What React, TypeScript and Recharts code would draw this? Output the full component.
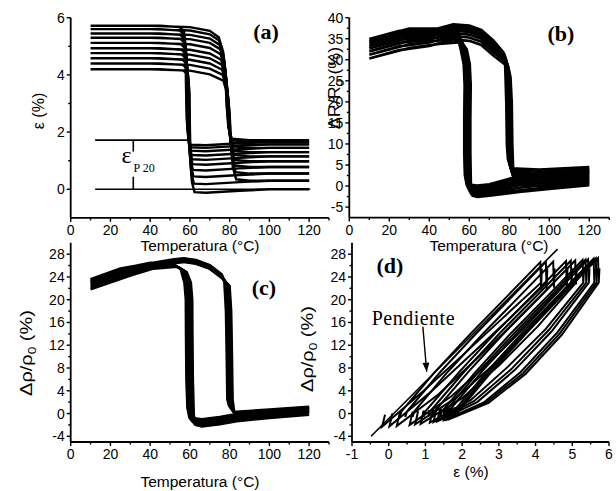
import { Line, LineChart, ReferenceLine, XAxis, YAxis } from 'recharts'

type Pt = [number, number]

const W = 616
const H = 491
const SANS = "'Liberation Sans', Arial, sans-serif"
const SERIF = "'Liberation Serif', 'Times New Roman', serif"

// (a) strain vs temperature: each cycle cools from 120 °C down to 10 °C, then heats back
const STRAIN_CYCLES: Pt[][] = [
  [[120,0],[100,0],[85,-0.05],[68,-0.12],[62.3,-0.1],[61,0.25],[60.4,0.84],[60,2.1],[59.8,3.36],[59,4.0],[56.8,4.15],[45,4.2],[10,4.2],[40,4.2],[60,4.15],[70,4.02],[76.8,3.8],[79,3.3],[80,2.64],[80.8,1.47],[81.6,0.77],[83.3,0.35],[90,0.3],[120,0.3]],
  [[120,0.3],[100,0.3],[85,0.25],[68,0.18],[62,0.2],[60.7,0.55],[60.1,1.12],[59.7,2.35],[59.5,3.58],[58.7,4.2],[56.5,4.35],[45,4.4],[10,4.4],[40,4.4],[60,4.35],[70,4.22],[76.5,4.0],[78.7,3.5],[79.7,2.86],[80.5,1.7],[81.3,1.01],[83,0.6],[90,0.55],[120,0.55]],
  [[120,0.55],[100,0.55],[85,0.5],[68,0.43],[61.8,0.45],[60.5,0.8],[59.9,1.36],[59.5,2.57],[59.3,3.77],[58.5,4.38],[56.3,4.53],[45,4.58],[10,4.58],[40,4.58],[60,4.53],[70,4.4],[76.2,4.18],[78.4,3.68],[79.4,3.06],[80.2,1.92],[81,1.24],[82.7,0.83],[90,0.78],[120,0.78]],
  [[120,0.78],[100,0.78],[85,0.73],[68,0.66],[61.5,0.68],[60.2,1.03],[59.6,1.58],[59.2,2.77],[59,3.96],[58.2,4.56],[56,4.71],[45,4.76],[10,4.76],[40,4.76],[60,4.71],[70,4.58],[76,4.36],[78.2,3.86],[79.2,3.25],[80,2.11],[80.8,1.43],[82.5,1.03],[90,0.98],[120,0.98]],
  [[120,0.98],[100,0.98],[85,0.93],[68,0.86],[61.3,0.88],[60,1.23],[59.4,1.77],[59,2.96],[58.8,4.14],[58,4.73],[55.8,4.88],[45,4.93],[10,4.93],[40,4.93],[60,4.88],[70,4.75],[75.7,4.53],[77.9,4.03],[78.9,3.42],[79.7,2.28],[80.5,1.6],[82.2,1.2],[90,1.15],[120,1.15]],
  [[120,1.15],[100,1.15],[85,1.1],[68,1.03],[61.1,1.05],[59.8,1.4],[59.2,1.94],[58.8,3.14],[58.6,4.33],[57.8,4.92],[55.6,5.07],[45,5.12],[10,5.12],[40,5.12],[60,5.07],[70,4.94],[75.5,4.72],[77.7,4.22],[78.7,3.59],[79.5,2.45],[80.3,1.76],[82,1.35],[90,1.3],[120,1.3]],
  [[120,1.3],[100,1.3],[85,1.25],[68,1.18],[60.9,1.2],[59.6,1.55],[59,2.1],[58.6,3.3],[58.4,4.5],[57.6,5.1],[55.4,5.25],[45,5.3],[10,5.3],[40,5.3],[60,5.25],[70,5.12],[75.2,4.9],[77.4,4.4],[78.4,3.76],[79.2,2.61],[80,1.91],[81.7,1.5],[90,1.45],[120,1.45]],
  [[120,1.45],[100,1.45],[85,1.4],[68,1.33],[60.7,1.35],[59.4,1.7],[58.8,2.25],[58.4,3.45],[58.2,4.65],[57.4,5.25],[55.2,5.4],[45,5.45],[10,5.45],[40,5.45],[60,5.4],[70,5.27],[75,5.05],[77.2,4.55],[78.2,3.9],[79,2.73],[79.8,2.04],[81.5,1.62],[90,1.57],[120,1.57]],
  [[120,1.57],[100,1.57],[85,1.52],[68,1.45],[60.5,1.47],[59.2,1.82],[58.6,2.38],[58.2,3.59],[58,4.79],[57.2,5.4],[55,5.55],[45,5.6],[10,5.6],[40,5.6],[60,5.55],[70,5.42],[74.7,5.2],[76.9,4.7],[77.9,4.02],[78.7,2.84],[79.5,2.13],[81.2,1.71],[90,1.66],[120,1.66]],
  [[120,1.66],[100,1.66],[85,1.61],[68,1.54],[60.3,1.56],[59,1.91],[58.4,2.47],[58,3.69],[57.8,4.91],[57,5.52],[54.8,5.67],[45,5.72],[10,5.72],[40,5.72],[60,5.67],[70,5.54],[74.5,5.32],[76.7,4.82],[77.7,4.12],[78.5,2.92],[79.3,2.2],[81,1.77],[90,1.72],[120,1.72]],
]

// (b) electrical resistance change vs temperature
const RES_CYCLES: Pt[][] = [
  [[120,0.2],[100,-0.7],[85,-1.4],[70,-2.3],[64,-2.6],[61.7,-2.3],[60.8,-0.1],[60.5,8],[60.5,16],[60.7,24],[60.2,29],[58.7,32.5],[56,34.2],[45,33.8],[30,32.8],[10,30.3],[25,32.3],[40,33.3],[52,34.8],[60,34.5],[66,33.5],[72,31],[79.5,28.3],[80.6,25.8],[81.2,20],[81.5,10],[82,2.6],[83.5,0.3],[95,0],[120,0.6]],
  [[120,0.6],[100,-0.3],[85,-1.0],[70,-2.0],[64,-2.3],[61.2,-2.0],[60.3,0.2],[60,8],[60,16],[60.2,24],[59.7,29],[58.2,32.5],[55.5,35],[45,34.6],[30,33.7],[10,31.2],[25,33.2],[40,34.1],[52,35.6],[60,35.3],[66,34.3],[72,31.8],[79,29.1],[80.1,26.6],[80.7,20],[81,10],[81.5,3.2],[83,0.9],[95,0.6],[120,1.2]],
  [[120,1.2],[100,0.3],[85,-0.4],[70,-1.6],[64,-1.9],[60.7,-1.6],[59.8,0.6],[59.5,8],[59.5,16],[59.7,24],[59.2,29],[57.7,32.5],[55,35.7],[45,35.3],[30,34.5],[10,32],[25,34],[40,34.8],[52,36.3],[60,36],[66,35],[72,32.5],[78.5,29.8],[79.6,27.3],[80.2,20],[80.5,10],[81,3.8],[82.5,1.5],[95,1.2],[120,1.8]],
  [[120,1.8],[100,0.9],[85,0.2],[70,-1.2],[64,-1.5],[60.2,-1.2],[59.3,1.0],[59,8],[59,16],[59.2,24],[58.7,29],[57.2,32.5],[54.5,36.3],[45,35.9],[30,35.2],[10,32.7],[25,34.7],[40,35.4],[52,36.9],[60,36.6],[66,35.6],[72,33.1],[78.2,30.4],[79.3,27.9],[79.9,20],[80.2,10],[80.7,4.4],[82.2,2.1],[95,1.8],[120,2.4]],
  [[120,2.4],[100,1.5],[85,0.8],[70,-0.8],[64,-1.1],[59.8,-0.8],[58.9,1.4],[58.6,8],[58.6,16],[58.8,24],[58.3,29],[56.8,32.5],[54.1,36.8],[45,36.4],[30,35.8],[10,33.3],[25,35.3],[40,35.9],[52,37.4],[60,37.1],[66,36.1],[72,33.6],[77.8,30.9],[78.9,28.4],[79.5,20],[79.8,10],[80.3,5.0],[81.8,2.7],[95,2.4],[120,3.0]],
  [[120,3.0],[100,2.1],[85,1.4],[70,-0.4],[64,-0.7],[59.4,-0.4],[58.5,1.8],[58.2,8],[58.2,16],[58.4,24],[57.9,29],[56.4,32.5],[53.7,37.2],[45,36.8],[30,36.4],[10,33.9],[25,35.9],[40,36.3],[52,37.8],[60,37.5],[66,36.5],[72,34],[77.5,31.3],[78.6,28.8],[79.2,20],[79.5,10],[80,5.5],[81.5,3.2],[95,2.9],[120,3.5]],
  [[120,3.5],[100,2.6],[85,1.9],[70,0],[64,-0.3],[59,0],[58.1,2.2],[57.8,8],[57.8,16],[58,24],[57.5,29],[56,32.5],[53.3,37.5],[45,37.1],[30,36.9],[10,34.4],[25,36.4],[40,36.6],[52,38.1],[60,37.8],[66,36.8],[72,34.3],[77.2,31.6],[78.3,29.1],[78.9,20],[79.2,10],[79.7,6],[81.2,3.7],[95,3.4],[120,4.0]],
  [[120,4.0],[100,3.1],[85,2.4],[70,0.4],[64,0.1],[58.7,0.4],[57.8,2.6],[57.5,8],[57.5,16],[57.7,24],[57.2,29],[55.7,32.5],[53,37.8],[45,37.4],[30,37.4],[10,34.9],[25,36.9],[40,36.9],[52,38.4],[60,38.1],[66,37.1],[72,34.6],[76.8,31.9],[77.9,29.4],[78.5,20],[78.8,10],[79.3,6.5],[80.8,4.2],[95,3.9],[120,4.5]],
]

// (c) resistivity change vs temperature
const RHO_T_CYCLES: Pt[][] = [
  [[120,-0.2],[100,-0.8],[85,-1.3],[75,-1.9],[66,-2.3],[63,-2.0],[62,-0.3],[61.5,6],[61.3,14],[61.2,20],[60.5,23],[58.5,24.8],[53.5,25.8],[40,25.4],[25,23.6],[10,21.8],[25,23.7],[40,25.3],[52,26.4],[57,26.6],[63,26.3],[70,25.4],[76,23.8],[80,22.4],[80.8,18],[81.2,10],[81.5,2.5],[82.3,0.3],[84.5,-0.8],[100,-0.4],[120,0.1]],
  [[120,0.1],[100,-0.5],[85,-1.0],[75,-1.8],[66,-2.2],[62.5,-1.9],[61.5,-0.2],[61,6],[60.8,14],[60.7,20],[60,23],[58,24.9],[53,25.9],[40,25.6],[25,23.9],[10,22.1],[25,24.0],[40,25.5],[52,26.5],[57,26.7],[63,26.4],[70,25.5],[76,23.9],[79.7,22.5],[80.5,18],[80.9,10],[81.2,2.5],[82,0.5],[84.2,-0.6],[100,-0.2],[120,0.3]],
  [[120,0.3],[100,-0.3],[85,-0.8],[75,-1.6],[66,-2.0],[62,-1.7],[61,0],[60.5,6],[60.3,14],[60.2,20],[59.5,23],[57.5,25],[52.5,26],[40,25.8],[25,24.2],[10,22.4],[25,24.3],[40,25.7],[52,26.6],[57,26.8],[63,26.5],[70,25.6],[76,24],[79.3,22.6],[80.1,18],[80.5,10],[80.8,2.5],[81.6,0.7],[83.8,-0.4],[100,0],[120,0.5]],
  [[120,0.5],[100,-0.1],[85,-0.6],[75,-1.4],[66,-1.8],[61.5,-1.5],[60.5,0.2],[60,6],[59.8,14],[59.7,20],[59,23],[57,25.1],[52,26.1],[40,26],[25,24.5],[10,22.7],[25,24.6],[40,25.9],[52,26.7],[57,26.9],[63,26.6],[70,25.7],[76,24.1],[78.9,22.7],[79.7,18],[80.1,10],[80.4,2.5],[81.2,0.9],[83.4,-0.2],[100,0.2],[120,0.7]],
  [[120,0.7],[100,0.1],[85,-0.4],[75,-1.2],[66,-1.6],[61,-1.3],[60,0.4],[59.5,6],[59.3,14],[59.2,20],[58.5,23],[56.5,25.2],[51.5,26.2],[40,26.2],[25,24.8],[10,23],[25,24.9],[40,26.1],[52,26.8],[57,27],[63,26.7],[70,25.8],[76,24.2],[78.5,22.8],[79.3,18],[79.7,10],[80,2.5],[80.8,1.1],[83,0],[100,0.4],[120,0.9]],
  [[120,0.9],[100,0.3],[85,-0.2],[75,-1.0],[66,-1.4],[60.5,-1.1],[59.5,0.6],[59,6],[58.8,14],[58.7,20],[58,23],[56,25.3],[51,26.3],[40,26.3],[25,25],[10,23.2],[25,25.1],[40,26.2],[52,26.9],[57,27.1],[63,26.8],[70,25.9],[76,24.3],[78.1,22.9],[78.9,18],[79.3,10],[79.6,2.5],[80.4,1.2],[82.6,0.1],[100,0.5],[120,1.0]],
  [[120,1.0],[100,0.4],[85,-0.1],[75,-0.8],[66,-1.2],[60.1,-0.9],[59.1,0.8],[58.6,6],[58.4,14],[58.3,20],[57.6,23],[55.6,25.4],[50.6,26.4],[40,26.4],[25,25.2],[10,23.4],[25,25.3],[40,26.3],[52,27],[57,27.2],[63,26.9],[70,26],[76,24.4],[77.7,23],[78.5,18],[78.9,10],[79.2,2.5],[80,1.3],[82.2,0.2],[100,0.6],[120,1.1]],
  [[120,1.1],[100,0.5],[85,0],[75,-0.6],[66,-1.0],[59.7,-0.7],[58.7,1.0],[58.2,6],[58,14],[57.9,20],[57.2,23],[55.2,25.5],[50.2,26.5],[40,26.5],[25,25.4],[10,23.6],[25,25.5],[40,26.4],[52,27.1],[57,27.3],[63,27],[70,26.1],[76,24.5],[77.3,23.1],[78.1,18],[78.5,10],[78.8,2.5],[79.6,1.4],[81.8,0.3],[100,0.7],[120,1.2]],
]

// (d) resistivity change vs strain, same cycles
const RHO_EPS_CYCLES: Pt[][] = [
  [[-0.1,-0.2],[-0.18,-2.3],[0.96,4.03],[2.03,10.35],[3.09,16.68],[4.15,23],[4.17,25.5],[4.15,21.8],[4.13,26.6],[3.19,20.37],[2.23,14.05],[1.26,7.32],[0.35,0.4],[0.3,-0.6],[0.32,0.1]],
  [[0.1,0],[0.02,-2.25],[1.15,3.81],[2.2,10.12],[3.25,16.44],[4.3,23],[4.32,25.5],[4.3,21.9],[4.28,26.65],[3.34,20.41],[2.38,14.07],[1.41,7.34],[0.5,0.4],[0.45,-0.6],[0.47,0.2]],
  [[0.3,0.1],[0.22,-2.2],[1.35,3.34],[2.4,9.64],[3.45,16.2],[4.5,23],[4.52,25.5],[4.5,22.1],[4.48,26.7],[3.54,20.45],[2.58,14.1],[1.61,7.35],[0.7,0.4],[0.65,-0.6],[0.67,0.3]],
  [[0.65,0.3],[0.57,-2.0],[1.7,3.0],[2.75,9.0],[3.8,15.75],[4.85,23],[4.87,25.5],[4.85,22.4],[4.83,26.8],[3.88,20.52],[2.9,14.15],[1.93,7.37],[1.0,0.4],[0.95,-0.6],[0.97,0.5]],
  [[0.8,0.4],[0.72,-1.9],[1.85,2.83],[2.89,8.81],[3.94,15.53],[4.98,23],[5.0,25.5],[4.98,22.55],[4.96,26.85],[4.01,20.56],[3.03,14.17],[2.06,7.39],[1.13,0.4],[1.08,-0.6],[1.1,0.6]],
  [[0.95,0.5],[0.87,-1.8],[1.99,2.66],[3.03,8.62],[4.06,15.31],[5.1,23],[5.12,25.5],[5.1,22.7],[5.08,26.9],[4.13,20.6],[3.15,14.2],[2.18,7.4],[1.25,0.4],[1.2,-0.6],[1.22,0.7]],
  [[1.2,0.7],[1.12,-1.6],[2.23,2.34],[3.25,8.24],[4.28,14.88],[5.3,23],[5.32,25.5],[5.3,23.0],[5.28,27],[4.33,20.67],[3.35,14.25],[2.38,7.42],[1.45,0.4],[1.4,-0.6],[1.42,0.9]],
  [[1.3,0.8],[1.22,-1.5],[2.32,2.18],[3.34,7.81],[4.36,14.67],[5.38,23],[5.4,25.5],[5.38,23.1],[5.36,27.05],[4.41,20.71],[3.44,14.27],[2.46,7.44],[1.54,0.4],[1.49,-0.6],[1.51,0.95]],
  [[1.4,0.9],[1.32,-1.4],[2.41,2.02],[3.43,7.63],[4.44,14.46],[5.45,23],[5.47,25.5],[5.45,23.2],[5.43,27.1],[4.48,20.75],[3.52,14.3],[2.55,7.45],[1.63,0.4],[1.58,-0.6],[1.6,1.0]],
  [[1.58,1.0],[1.5,-1.2],[2.59,1.95],[3.59,7.27],[4.6,14.29],[5.6,23],[5.62,25.5],[5.6,23.4],[5.58,27.2],[4.63,20.82],[3.66,14.35],[2.69,7.47],[1.77,0.4],[1.72,-0.6],[1.74,1.1]],
  [[1.65,1.05],[1.57,-1.1],[2.65,1.91],[3.66,7.09],[4.66,14.08],[5.66,23],[5.68,25.5],[5.66,23.5],[5.64,27.25],[4.69,20.86],[3.73,14.37],[2.76,7.49],[1.84,0.4],[1.79,-0.6],[1.81,1.15]],
  [[1.72,1.1],[1.64,-1.0],[2.72,1.88],[3.72,6.92],[4.72,13.88],[5.72,23],[5.74,25.5],[5.72,23.6],[5.7,27.3],[4.75,20.9],[3.79,14.4],[2.82,7.5],[1.9,0.4],[1.85,-0.6],[1.87,1.2]],
]

const SLOPE_LINE: Pt[] = [[-0.48, -4], [4.6, 28.9]]
const SLOPE_ARROW: Pt[] = [[0.93, 15.25], [1.035, 7.34]]
const EPS_P20 = 1.72

const TEMP_TICKS = [0, 10, 20, 30, 40, 50, 60, 70, 80, 90, 100, 110, 120, 130]
const TEMP_MAJOR = [0, 20, 40, 60, 80, 100, 120]
const STRAIN_TICKS = [0, 1, 2, 3, 4, 5, 6]
const STRAIN_MAJOR = [0, 2, 4, 6]
const RES_TICKS = [-5, -2.5, 0, 2.5, 5, 7.5, 10, 12.5, 15, 17.5, 20, 22.5, 25, 27.5, 30, 32.5, 35, 37.5, 40]
const RES_MAJOR = [-5, 0, 5, 10, 15, 20, 25, 30, 35, 40]
const RHO_TICKS = [-4, -2, 0, 2, 4, 6, 8, 10, 12, 14, 16, 18, 20, 22, 24, 26, 28]
const RHO_MAJOR = [-4, 0, 4, 8, 12, 16, 20, 24, 28]
const EPS_TICKS = [-1, -0.5, 0, 0.5, 1, 1.5, 2, 2.5, 3, 3.5, 4, 4.5, 5, 5.5, 6]
const EPS_MAJOR = [-1, 0, 1, 2, 3, 4, 5, 6]

const rows = (pts: Pt[]) => pts.map(([x, y]) => ({ x, y }))

const xTick = (major: number[]) => (p: any) => {
  const v = p.payload.value
  const m = major.includes(v)
  return (
    <g>
      <line x1={p.x} x2={p.x} y1={p.y} y2={p.y + (m ? 4 : 2.5)} stroke="#000" strokeWidth={1.4} />
      {m && (
        <text x={p.x} y={p.y + 17} textAnchor="middle" fontSize={14} fontFamily={SANS} fill="#000">
          {v}
        </text>
      )}
    </g>
  )
}

const yTick = (major: number[]) => (p: any) => {
  const v = p.payload.value
  const m = major.includes(v)
  return (
    <g>
      <line x1={p.x} x2={p.x - (m ? 4 : 2.5)} y1={p.y} y2={p.y} stroke="#000" strokeWidth={1.4} />
      {m && (
        <text x={p.x - 6} y={p.y + 5} textAnchor="end" fontSize={14} fontFamily={SANS} fill="#000">
          {v}
        </text>
      )}
    </g>
  )
}

interface PanelProps {
  box: { left: number; top: number; right: number; bottom: number }
  xDomain: [number, number]
  yDomain: [number, number]
  xTicks: number[]
  xMajor: number[]
  yTicks: number[]
  yMajor: number[]
  cycles: Pt[][]
  lineWidth: number
  extra?: any[]
}

function Panel({ box, xDomain, yDomain, xTicks, xMajor, yTicks, yMajor, cycles, lineWidth, extra = [] }: PanelProps) {
  const margin = { left: box.left - 30, top: box.top, right: W - box.right, bottom: H - box.bottom - 30 }
  return (
    <div style={{ position: 'absolute', left: 0, top: 0 }}>
      <LineChart width={W} height={H} margin={margin}>
        <XAxis
          type="number"
          dataKey="x"
          domain={xDomain}
          ticks={xTicks}
          interval={0}
          height={30}
          allowDataOverflow
          tickSize={0}
          tickMargin={0}
          tickLine={false}
          axisLine={{ stroke: '#000', strokeWidth: 1.8 }}
          tick={xTick(xMajor)}
        />
        <YAxis
          type="number"
          domain={yDomain}
          ticks={yTicks}
          interval={0}
          width={30}
          allowDataOverflow
          tickSize={0}
          tickMargin={0}
          tickLine={false}
          axisLine={{ stroke: '#000', strokeWidth: 1.8 }}
          tick={yTick(yMajor)}
        />
        {cycles.map((c, i) => (
          <Line
            key={i}
            data={rows(c)}
            dataKey="y"
            type="linear"
            stroke="#000"
            strokeWidth={lineWidth}
            dot={false}
            isAnimationActive={false}
          />
        ))}
        {extra}
      </LineChart>
    </div>
  )
}

const arrowHead = (p: any) => {
  if (p.index !== 1) return <g key={p.index} />
  return (
    <polygon
      key={p.index}
      points="-3.5,-9 3.5,-9 0,0"
      fill="#000"
      transform={`translate(${p.cx},${p.cy}) rotate(-5)`}
    />
  )
}

const seg = { stroke: '#000', strokeWidth: 1.6 }

export default function App() {
  return (
    <div style={{ position: 'absolute', left: 0, top: 0, width: W, height: H, background: '#fff' }}>
      <Panel
        box={{ left: 70.7, top: 17.7, right: 329, bottom: 217.9 }}
        xDomain={[0, 130]}
        yDomain={[-1, 6]}
        xTicks={TEMP_TICKS}
        xMajor={TEMP_MAJOR}
        yTicks={STRAIN_TICKS}
        yMajor={STRAIN_MAJOR}
        cycles={STRAIN_CYCLES}
        lineWidth={2.4}
        extra={[
          <ReferenceLine key="p1" segment={[{ x: 12.3, y: EPS_P20 }, { x: 60, y: EPS_P20 }]} {...seg} />,
          <ReferenceLine key="p2" segment={[{ x: 12.3, y: 0 }, { x: 120.5, y: 0 }]} {...seg} />,
          <ReferenceLine key="p3" segment={[{ x: 31.5, y: EPS_P20 }, { x: 31.5, y: 1.32 }]} {...seg} />,
          <ReferenceLine key="p4" segment={[{ x: 31.5, y: 0.44 }, { x: 31.5, y: 0 }]} {...seg} />,
        ]}
      />
      <Panel
        box={{ left: 349.3, top: 17.7, right: 609.3, bottom: 217.6 }}
        xDomain={[0, 130]}
        yDomain={[-7.5, 40]}
        xTicks={TEMP_TICKS}
        xMajor={TEMP_MAJOR}
        yTicks={RES_TICKS}
        yMajor={RES_MAJOR}
        cycles={RES_CYCLES}
        lineWidth={2.7}
      />
      <Panel
        box={{ left: 70.7, top: 242.8, right: 329, bottom: 442 }}
        xDomain={[0, 130]}
        yDomain={[-5, 30]}
        xTicks={TEMP_TICKS}
        xMajor={TEMP_MAJOR}
        yTicks={RHO_TICKS}
        yMajor={RHO_MAJOR}
        cycles={RHO_T_CYCLES}
        lineWidth={2.4}
      />
      <Panel
        box={{ left: 352, top: 242.8, right: 609, bottom: 442 }}
        xDomain={[-1, 6]}
        yDomain={[-5, 30]}
        xTicks={EPS_TICKS}
        xMajor={EPS_MAJOR}
        yTicks={RHO_TICKS}
        yMajor={RHO_MAJOR}
        cycles={RHO_EPS_CYCLES}
        lineWidth={2}
        extra={[
          <Line key="slope" data={rows(SLOPE_LINE)} dataKey="y" stroke="#000" strokeWidth={1.6} dot={false} isAnimationActive={false} />,
          <Line key="arrow" data={rows(SLOPE_ARROW)} dataKey="y" stroke="#000" strokeWidth={1.4} dot={arrowHead} isAnimationActive={false} />,
        ]}
      />
      <svg width={W} height={H} style={{ position: 'absolute', left: 0, top: 0, pointerEvents: 'none' }}>
        <g fontFamily={SANS} fontSize={16} fill="#000">
          <text transform="translate(38.5,111) rotate(-90)" y={5.5} textAnchor="middle">ε (%)</text>
          <text transform="translate(334,88) rotate(-90) scale(1.12,1)" y={5.5} textAnchor="middle">
            ΔR/R<tspan dy={4} fontSize={11}>0</tspan><tspan dy={-4}> (%)</tspan>
          </text>
          <text transform="translate(26,353) rotate(-90) scale(1.25,1)" y={5.5} textAnchor="middle">
            Δρ/ρ<tspan dy={4} fontSize={11}>0</tspan><tspan dy={-4}> (%)</tspan>
          </text>
          <text transform="translate(307,349) rotate(-90) scale(1.25,1)" y={5.5} textAnchor="middle">
            Δρ/ρ<tspan dy={4} fontSize={11}>0</tspan><tspan dy={-4}> (%)</tspan>
          </text>
          <text x={200} y={251} textAnchor="middle" fontSize={15.5}>Temperatura (°C)</text>
          <text x={489} y={251} textAnchor="middle" fontSize={15.5}>Temperatura (°C)</text>
          <text x={200} y={487} textAnchor="middle" fontSize={15.5}>Temperatura (°C)</text>
          <text x={471} y={477} textAnchor="middle" fontSize={15.5}>ε (%)</text>
        </g>
        <g fontFamily={SERIF} fontWeight="bold" fontSize={22} fill="#000" textAnchor="middle">
          <text x={266} y={39}>(a)</text>
          <text x={561} y={41}>(b)</text>
          <text x={264} y={295}>(c)</text>
          <text x={390} y={273}>(d)</text>
        </g>
        <g fontFamily={SERIF} fill="#000">
          <text x={121.5} y={163} fontSize={24}>ε</text>
          <text x={133.5} y={171.7} fontSize={12}>P 20</text>
          <text x={371.7} y={325} fontSize={20} letterSpacing={0.5}>Pendiente</text>
        </g>
      </svg>
    </div>
  )
}
